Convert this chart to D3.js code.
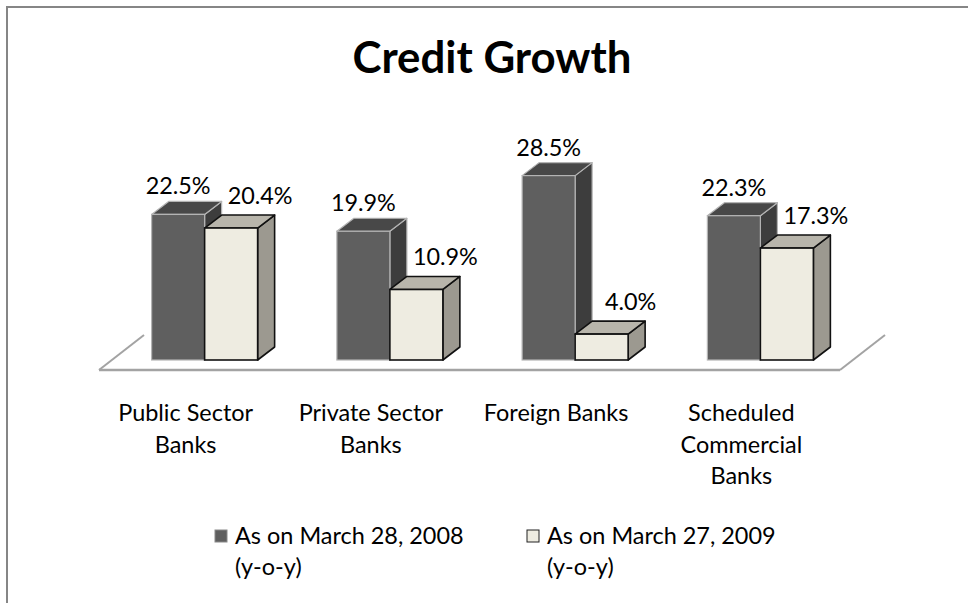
<!DOCTYPE html>
<html>
<head>
<meta charset="utf-8">
<script src="https://cdn.jsdelivr.net/npm/d3@7"></script>
<style>
  html, body { margin: 0; padding: 0; background: #fff; }
  svg { display: block; }
  text { font-family: Lato, "Open Sans", sans-serif; fill: #000; }
</style>
</head>
<body>
<svg id="chart" width="968" height="603"></svg>
<script>
// Chart data
const title = "Credit Growth";
const categories = ["Public Sector Banks", "Private Sector Banks", "Foreign Banks", "Scheduled Commercial Banks"];
const categoryLines = [["Public Sector", "Banks"], ["Private Sector", "Banks"], ["Foreign Banks"], ["Scheduled", "Commercial", "Banks"]];
const seriesNames = ["As on March 28, 2008", "As on March 27, 2009"];
const seriesNote = "(y-o-y)";
const values2008 = [22.5, 19.9, 28.5, 22.3];
const values2009 = [20.4, 10.9, 4.0, 17.3];

const svg = d3.select("#chart");

// Size a font so that a sample string spans a given width
function fitFont(sample, width, weight) {
  const t = svg.append("text").attr("font-size", 100).attr("font-weight", weight || "normal").text(sample);
  const w = t.node().getComputedTextLength();
  t.remove();
  return 100 * width / w;
}
const titleSize = fitFont(title, 279, "bold");
const labelSize = fitFont("Public Sector", 135);
const valueSize = fitFont("22.5%", 65);

// Outer frame
svg.append("rect")
  .attr("x", 7).attr("y", 7).attr("width", 1000).attr("height", 1000)
  .attr("fill", "none").attr("stroke", "#868686").attr("stroke-width", 2);

// Title
svg.append("text")
  .attr("x", 492).attr("y", 73)
  .attr("text-anchor", "middle")
  .attr("font-weight", "bold")
  .attr("font-size", titleSize)
  .text(title);

// Scales
const floorLeft = 99, floorRight = 840, floorFront = 370;
const floorDepth = { dx: 45, dy: -35 };
const x = d3.scaleBand().domain(categories).range([floorLeft, floorRight]).padding(0);
const y = d3.scaleLinear().domain([0, 30]).range([360, 360 - 6.47 * 30]);
const barW = 53;
const depth = { dx: 17, dy: -13 };

// Floor edges
const floor = svg.append("g").attr("stroke", "#a3a3a3").attr("fill", "none");
floor.append("line")
  .attr("x1", floorLeft).attr("y1", floorFront)
  .attr("x2", floorRight).attr("y2", floorFront)
  .attr("stroke-width", 2.5);
[floorLeft, floorRight].forEach(fx => {
  floor.append("line")
    .attr("x1", fx).attr("y1", floorFront)
    .attr("x2", fx + floorDepth.dx).attr("y2", floorFront + floorDepth.dy)
    .attr("stroke-width", 2);
});

const styles = [
  { front: "#5f5f5f", top: "#484848", side: "#3d3d3d", stroke: "#b4b4b4", sw: 1.2 },
  { front: "#eeece1", top: "#b8b5ab", side: "#9c9990", stroke: "#111111", sw: 1.6 }
];

function drawBar(g, x0, v, st) {
  const yt = y(v), yb = y(0);
  const x1 = x0 + barW;
  const dx = depth.dx, dy = depth.dy;
  g.append("path")
    .attr("d", `M${x1},${yt}L${x1 + dx},${yt + dy}L${x1 + dx},${yb + dy}L${x1},${yb}Z`)
    .attr("fill", st.side).attr("stroke", st.stroke).attr("stroke-width", st.sw).attr("stroke-linejoin", "round");
  g.append("path")
    .attr("d", `M${x0},${yt}L${x0 + dx},${yt + dy}L${x1 + dx},${yt + dy}L${x1},${yt}Z`)
    .attr("fill", st.top).attr("stroke", st.stroke).attr("stroke-width", st.sw).attr("stroke-linejoin", "round");
  g.append("rect")
    .attr("x", x0).attr("y", yt).attr("width", barW).attr("height", yb - yt)
    .attr("fill", st.front).attr("stroke", st.stroke).attr("stroke-width", st.sw);
}

const bars = svg.append("g");
const labels = svg.append("g").attr("font-size", valueSize).attr("text-anchor", "middle");
categories.forEach((c, i) => {
  const center = x(c) + x.bandwidth() / 2 + 13;
  const xDark = center - barW, xLight = center;
  drawBar(bars, xDark, values2008[i], styles[0]);
  drawBar(bars, xLight, values2009[i], styles[1]);
  labels.append("text")
    .attr("x", xDark + barW / 2).attr("y", y(values2008[i]) - 20)
    .text(values2008[i].toFixed(1) + "%");
  labels.append("text")
    .attr("x", xLight + barW / 2 + 29).attr("y", y(values2009[i]) - 24)
    .text(values2009[i].toFixed(1) + "%");
});

// Category labels
const cat = svg.append("g").attr("font-size", labelSize).attr("text-anchor", "middle");
categories.forEach((c, i) => {
  const cx = x(c) + x.bandwidth() / 2 - 6;
  const t = cat.append("text").attr("x", cx).attr("y", 421);
  categoryLines[i].forEach((line, k) => {
    t.append("tspan").attr("x", cx).attr("y", 421 + k * 31.5).text(line);
  });
});

// Legend
const legend = svg.append("g").attr("font-size", labelSize);
const legendX = [215, 527];
seriesNames.forEach((name, i) => {
  const lx = legendX[i];
  legend.append("rect")
    .attr("x", lx).attr("y", 530).attr("width", 12).attr("height", 12)
    .attr("fill", styles[i].front)
    .attr("stroke", i === 0 ? "#8a8a8a" : "#222").attr("stroke-width", 1);
  legend.append("text").attr("x", lx + 20).attr("y", 544).text(name);
  legend.append("text").attr("x", lx + 20).attr("y", 575).text(seriesNote);
});
</script>
</body>
</html>
